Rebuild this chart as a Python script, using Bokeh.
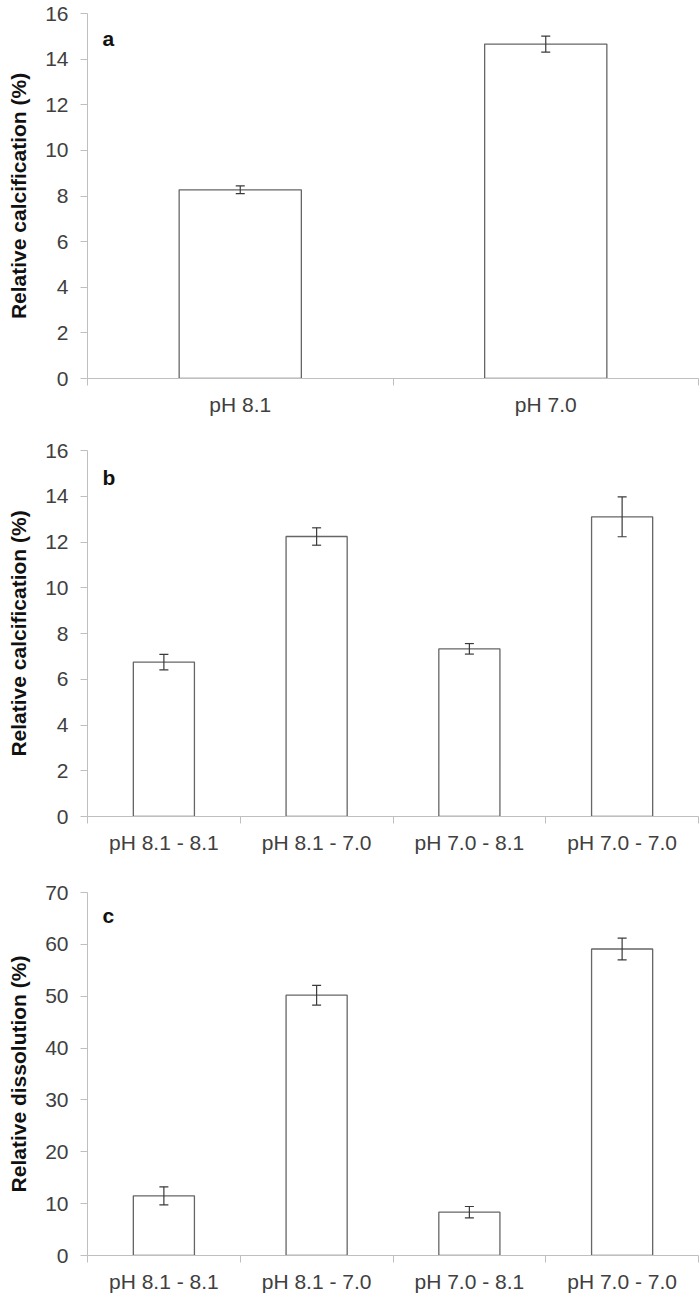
from bokeh.plotting import figure
from bokeh.models import Range1d, FixedTicker, ColumnDataSource, Whisker, TeeHead, Label
from bokeh.layouts import column
from bokeh.embed import file_html
from bokeh.resources import INLINE

# ---- data ----
cats_a = ["pH 8.1", "pH 7.0"]
vals_a = [8.27, 14.66]
err_a = [0.17, 0.35]

cats_bc = ["pH 8.1 - 8.1", "pH 8.1 - 7.0", "pH 7.0 - 8.1", "pH 7.0 - 7.0"]
vals_b = [6.75, 12.24, 7.33, 13.1]
err_b = [0.34, 0.38, 0.23, 0.87]

vals_c = [11.5, 50.2, 8.35, 59.1]
err_c = [1.75, 1.9, 1.1, 2.1]

yticks_ab = [0, 2, 4, 6, 8, 10, 12, 14, 16]
yticks_c = [0, 10, 20, 30, 40, 50, 60, 70]

ylabel_calc = "Relative calcification (%)"
ylabel_diss = "Relative dissolution (%)"

FONT = "Liberation Sans"
AXIS_GREY = "#bfbfbf"
TEXT_GREY = "#404040"


def panel(cats, vals, errs, yticks, ylabel, letter, frame_h, b_top, b_bottom, letter_dy):
    n = len(cats)
    p = figure(
        frame_width=611, frame_height=frame_h,
        x_range=Range1d(-0.5, n - 0.5),
        y_range=Range1d(yticks[0], yticks[-1]),
        output_backend="svg", toolbar_location=None,
        min_border_left=87, min_border_right=2,
        min_border_top=b_top, min_border_bottom=b_bottom,
    )
    p.outline_line_color = None
    p.grid.visible = False

    src = ColumnDataSource(dict(
        x=list(range(n)),
        top=vals,
        upper=[v + e for v, e in zip(vals, errs)],
        lower=[v - e for v, e in zip(vals, errs)],
    ))
    p.vbar(x="x", top="top", bottom=0, width=0.4, source=src,
           fill_color="white", line_color="#666666", line_width=1.3)

    w = Whisker(base="x", upper="upper", lower="lower", source=src,
                level="overlay",
                line_color="#3a3a3a", line_width=1.2,
                upper_head=TeeHead(size=9, line_color="#3a3a3a", line_width=1.2),
                lower_head=TeeHead(size=9, line_color="#3a3a3a", line_width=1.2))
    p.add_layout(w)

    # y axis
    ya = p.yaxis[0]
    ya.ticker = FixedTicker(ticks=yticks)
    ya.axis_line_color = AXIS_GREY
    ya.major_tick_line_color = AXIS_GREY
    ya.major_tick_out = 7
    ya.major_tick_in = 0
    ya.minor_tick_line_color = None
    ya.major_label_text_font = FONT
    ya.major_label_text_font_size = "21px"
    ya.major_label_text_color = TEXT_GREY
    ya.major_label_standoff = 12
    ya.axis_label = ylabel
    ya.axis_label_text_font = FONT
    ya.axis_label_text_font_size = "21px"
    ya.axis_label_text_font_style = "bold"
    ya.axis_label_text_color = "#111111"
    ya.axis_label_standoff = 12

    # x axis: labels at category centres, ticks at category boundaries
    xa = p.xaxis[0]
    xa.ticker = FixedTicker(ticks=list(range(n)),
                            minor_ticks=[i - 0.5 for i in range(n + 1)])
    xa.major_label_overrides = {i: c for i, c in enumerate(cats)}
    xa.axis_line_color = AXIS_GREY
    xa.major_tick_line_color = None
    xa.major_tick_out = 0
    xa.major_tick_in = 0
    xa.minor_tick_line_color = AXIS_GREY
    xa.minor_tick_out = 7
    xa.minor_tick_in = 0
    xa.major_label_text_font = FONT
    xa.major_label_text_font_size = "21px"
    xa.major_label_text_color = TEXT_GREY
    xa.major_label_standoff = 7

    p.add_layout(Label(x=-0.5, y=yticks[-1], x_offset=15, y_offset=-letter_dy,
                       text=letter, text_font=FONT, text_font_size="21px",
                       text_font_style="bold", text_color="#111111",
                       text_baseline="middle", text_align="left"))
    return p


pa = panel(cats_a, vals_a, err_a, yticks_ab, ylabel_calc, "a", 365, 13, 58, 25)
pb = panel(cats_bc, vals_b, err_b, yticks_ab, ylabel_calc, "b", 366, 14, 60, 27)
pc = panel(cats_bc, vals_c, err_c, yticks_c, ylabel_diss, "c", 363, 16, 42, 23)

layout = column(pa, pb, pc, spacing=0)

open("out.html", "w").write(file_html(layout, INLINE))
